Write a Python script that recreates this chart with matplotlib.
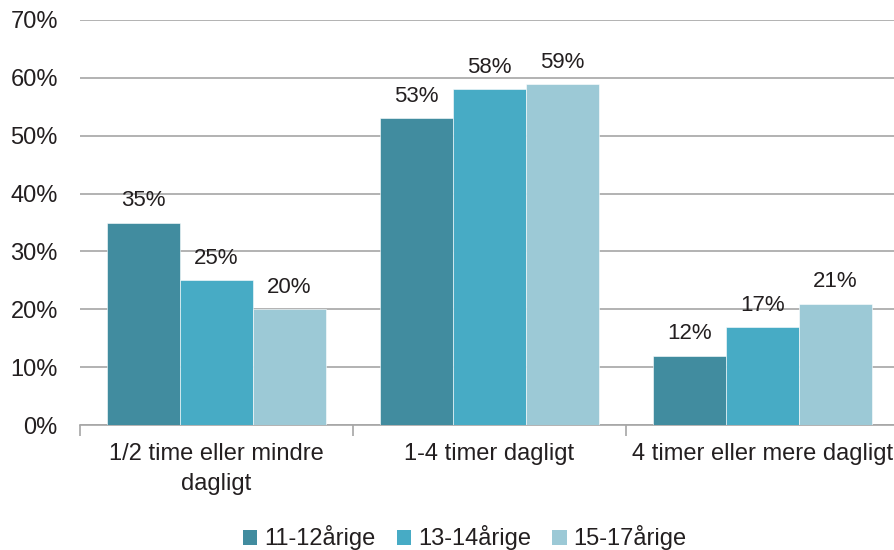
import matplotlib
matplotlib.use("Agg")
import matplotlib.pyplot as plt
import numpy as np
from matplotlib.patches import Patch

plt.rcParams['font.family'] = ['Liberation Sans', 'DejaVu Sans']

categories = ["1/2 time eller mindre\ndagligt", "1-4 timer dagligt", "4 timer eller mere dagligt"]
series_names = ["11-12årige", "13-14årige", "15-17årige"]
values_11_12 = [35, 53, 12]
values_13_14 = [25, 58, 17]
values_15_17 = [20, 59, 21]
yticks = [0, 10, 20, 30, 40, 50, 60, 70]

colors = ["#418C9F", "#47ABC5", "#9CC9D6"]
text_color = "#231F20"
grid_color = "#A6A6A6"

fig = plt.figure(figsize=(8.95, 5.5), dpi=100)
ax = fig.add_axes([80 / 895, 125 / 550, 819 / 895, 405 / 550])

x = np.arange(len(categories))
w = 0.8 / 3
for i, (vals, name) in enumerate(zip([values_11_12, values_13_14, values_15_17], series_names)):
    pos = x + (i - 1) * w
    bars = ax.bar(pos, vals, width=w, color=colors[i], edgecolor="white", linewidth=0.4,
                  label=name, zorder=3)
    for b, v in zip(bars, vals):
        ax.annotate(f"{v}%", (b.get_x() + b.get_width() / 2, v), xytext=(0, 8),
                    textcoords="offset points", ha="center", va="bottom",
                    fontsize=16, color=text_color)

ax.set_xlim(-0.5, 2.5)
ax.set_ylim(0, 70)
ax.set_yticks(yticks)
ax.set_yticklabels([f"{t}%" for t in yticks], fontsize=17, color=text_color)
ax.grid(axis="y", color=grid_color, linewidth=1.2, zorder=0)
ax.tick_params(axis="y", length=0, pad=16)

ax.set_xticks(x)
ax.set_xticklabels(categories, fontsize=17, color=text_color, linespacing=1.45)
ax.tick_params(axis="x", length=0, pad=13)
ax.set_xticks([-0.5, 0.5, 1.5, 2.5], minor=True)
ax.tick_params(axis="x", which="minor", length=8, color=grid_color, width=1.2)

for s in ["left", "right", "top"]:
    ax.spines[s].set_visible(False)
ax.spines["bottom"].set_color(grid_color)
ax.spines["bottom"].set_linewidth(1.2)

handles = [Patch(facecolor=c, edgecolor="none") for c in colors]
fig.legend(handles, series_names, loc="center", bbox_to_anchor=(465 / 895, 1 - 538 / 550),
           ncol=3, frameon=False, fontsize=17, handlelength=0.6, handleheight=0.6,
           handletextpad=0.3, columnspacing=0.9, labelcolor=text_color)

fig.savefig("out.png", dpi=100)
